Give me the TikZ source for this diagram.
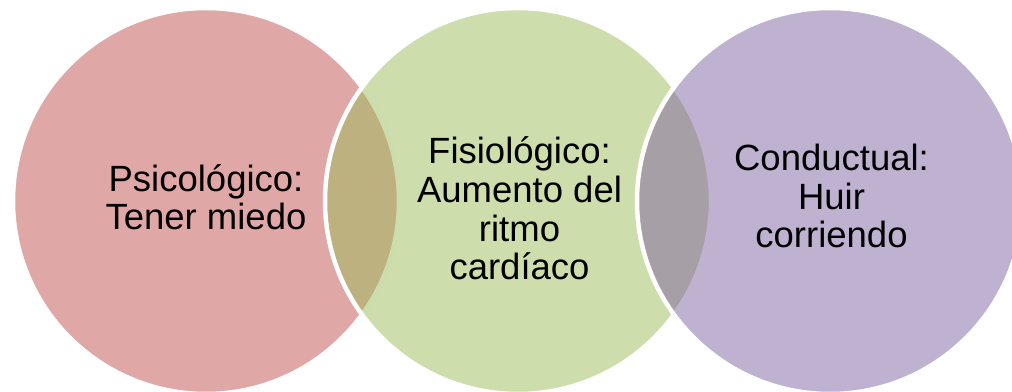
\documentclass[tikz,border=0pt]{standalone}
\usepackage{fontspec}
\setmainfont{Liberation Sans}
\definecolor{psired}{HTML}{C0504D}
\definecolor{fisgreen}{HTML}{9BBB59}
\definecolor{conpurple}{HTML}{8064A2}

\begin{document}
\begin{tikzpicture}[x=1pt,y=1pt,
  venn/.style={circle,minimum size=386pt,inner sep=0pt,draw=white,line width=4.5pt,fill opacity=0.5},
  lbl/.style={align=center,anchor=base,inner sep=0pt,font=\fontsize{36.5}{38.7}\selectfont}]
\useasboundingbox (0,0) rectangle (1012,391);
\node[venn,fill=psired]    (c1) at (206,190) {};
\node[venn,fill=fisgreen]  (c2) at (518,190) {};
\node[venn,fill=conpurple] (c3) at (830,190) {};
\node[lbl] (t1) at (206,161)   { Psicológico:\\Tener miedo };
\node[lbl] (t2) at (519.5,111) { Fisiológico:\\Aumento del\\ritmo\\cardíaco };
\node[lbl] (t3) at (831.5,143) { Conductual:\\Huir\\corriendo };
\end{tikzpicture}
\end{document}
